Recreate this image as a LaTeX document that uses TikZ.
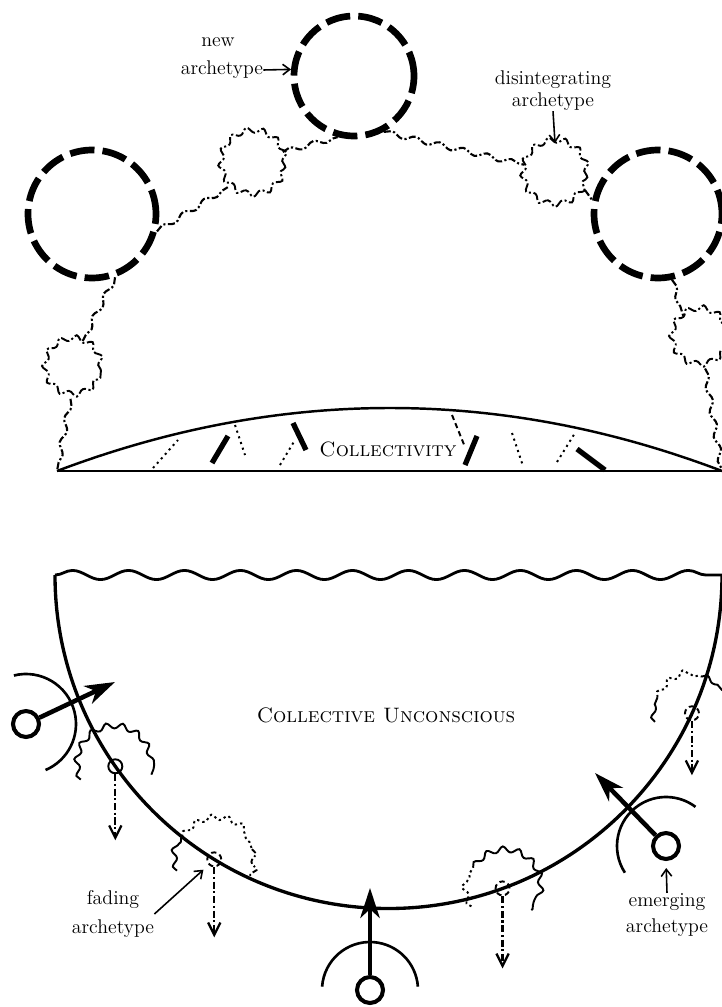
\documentclass[tikz,border=0pt]{standalone}
\usepackage{fontspec}
\usetikzlibrary{arrows.meta, decorations.pathmorphing, calc, positioning}
\tikzset{
  % upper figure: archetype rings, their fuzzy remnants and the links between
  archring/.style = {circle, draw, inner sep=0pt, line width=3.8pt,
                     dash pattern=on 14pt off 4.6pt},
  fuzz/.style     = {circle, draw, inner sep=0pt, line width=1.1pt, decorate,
                     decoration={snake, segment length=9pt, amplitude=1.6pt},
                     dash pattern=on 5pt off 1.5pt on 1.2pt off 1.5pt},
  linkline/.style = {line width=1.2pt, decorate,
                     decoration={snake, segment length=14pt, amplitude=1.5pt},
                     dash pattern=on 4pt off 1.4pt on 1.2pt off 1.4pt},
  tickdot/.style  = {line width=1.1pt, dash pattern=on 1.2pt off 2.2pt},
  tickbar/.style  = {line width=3pt},
  % lower figure: seeds rising through the rim, fading ones sinking back
  seed/.style     = {circle, draw, inner sep=0pt, minimum size=0.52cm, line width=2.3pt},
  rise/.style     = {line width=2.6pt, -{Stealth[length=17pt, width=11pt, inset=5pt]}},
  hood/.style     = {line width=1.5pt},
  fade/.style     = {circle, draw, inner sep=0pt, minimum size=0.28cm, line width=1.1pt},
  sink/.style     = {line width=1.3pt, dash pattern=on 4pt off 1.5pt on 1.2pt off 1.5pt,
                     -{Straight Barb[length=7pt, width=7pt]}},
  wisp/.style     = {line width=1.1pt, decorate,
                     decoration={snake, segment length=9pt, amplitude=1.6pt}},
  wispdot/.style  = {wisp, dash pattern=on 1.3pt off 1.8pt},
  pointer/.style  = {line width=0.9pt, -{Straight Barb[length=4pt, width=6pt]}},
  lbl/.style      = {font=\fontsize{11.3}{16}\selectfont, align=center, inner sep=0pt},
  caps/.style     = {inner sep=0pt},
}

\begin{document}
\begin{tikzpicture}[x=0.02cm, y=-0.02cm,
    bowl/.style={line width=1.9pt},
    surface/.style={line width=1.6pt, decorate,
                    decoration={snake, segment length=1.12cm, amplitude=2.6pt}}]
  \useasboundingbox (0,0) rectangle (722,1007);
  % rings
  \node[archring, minimum size=2.4cm]  (ringN) at (354,76) {};
  \node[archring, minimum size=2.56cm] (ringL) at (92,214) {};
  \node[archring, minimum size=2.56cm] (ringR) at (658,214) {};
  % fuzzy remnants
  \node[fuzz, minimum size=1.12cm] (fzL) at (73,370) {};
  \node[fuzz, minimum size=1.28cm] (fzN) at (253,166) {};
  \node[fuzz, minimum size=1.28cm] (fzD) at (555,176) {};
  \node[fuzz, minimum size=1.12cm] (fzR) at (700,340) {};
  % lens
  \coordinate (lensW) at (57,471);
  \coordinate (lensE) at (722,471);
  \draw[line width=1.7pt] (lensW) -- (lensE);
  \draw[line width=1.4pt] (lensW) .. controls (279,387) and (501,387) .. (lensE);
  % links
  \draw[linkline] (ringL.290) -- (fzL.72);
  \draw[linkline] (fzL.265) -- (lensW);
  \draw[linkline] (ringL.345) -- (fzN.220);
  \draw[linkline] (fzN.25) -- (ringN.255);
  \draw[linkline] (ringN.298) -- (fzD.160);
  \draw[linkline] (fzD.335) -- (ringR.168);
  \draw[linkline] (ringR.282) -- (fzR.125);
  \draw[linkline] (fzR.280) -- (lensE);
  % strokes in the lens
  \draw[tickdot] (153,468) -- (178,440);
  \draw[tickbar] (212,463) -- (228,436);
  \draw[tickdot] (235,425) -- (245,455);
  \draw[tickdot] (280,465) -- (295,440);
  \draw[tickbar] (293,423) -- (306,450);
  \draw[tickdot, dash pattern=on 3pt off 2pt] (452,415) -- (465,447);
  \draw[tickbar] (465,465) -- (477,436);
  \draw[tickdot] (512,433) -- (523,466);
  \draw[tickdot] (557,462) -- (575,433);
  \draw[tickbar] (577,449) -- (605,470);
  \node[caps, font=\fontsize{11.8}{13}\selectfont\scshape]
    (collect) at (388,449) {Collectivity};
  % labels, upper
  \node[lbl] (lblnew) at (218,42) {new};
  \node[lbl] (lblnewb) at (222,70) {archetype};
  \draw[pointer] (lblnewb.east) -- (ringN.174);
  \node[lbl, font=\fontsize{11.3}{12.5}\selectfont] (lbldis) at (553,91) {disintegrating\\archetype};
  \draw[pointer] (lbldis.south) -- (fzD.north);

  % bowl
  \coordinate (surfW) at (55,575);
  \coordinate (surfE) at (722,575);
  \coordinate (bowlc) at (388.5,575);
  \draw[surface] (surfW) -- (surfE);
  \draw[bowl] (surfW) arc[start angle=180, end angle=0, radius=333.5];
  \node[caps, font=\fontsize{11.9}{14}\selectfont\scshape]
    (uncon) at (386,715) {Collective Unconscious};
  % emerging archetypes
  \node[seed] (e1) at (26,724) {};
  \node[seed] (e2) at (370,990) {};
  \node[seed] (e3) at (666,846) {};
  \coordinate (t1) at (115,682);
  \coordinate (t2) at (370,888);
  \coordinate (t3) at (595,773);
  \draw[rise] (e1) -- (t1);
  \draw[rise] (e2) -- (t2);
  \draw[rise] (e3) -- (t3);
  \draw[hood] (e1.center) ++(-104:50) arc[start angle=-104, end angle=67, radius=50];
  \draw[hood] (e2.center) ++(184:48) arc[start angle=184, end angle=356, radius=48];
  \draw[hood] (e3.center) ++(147:49) arc[start angle=147, end angle=307, radius=49];
  % fading archetypes
  \node[fade] (f1) at ($(bowlc)+(145:333.5)$) {};
  \node[fade, densely dashed] (f2) at ($(bowlc)+(121.5:333.5)$) {};
  \node[fade, densely dashed] (f3) at ($(bowlc)+(70:333.5)$) {};
  \node[fade, densely dashed] (f4) at ($(bowlc)+(24.5:333.5)$) {};
  \draw[wisp] (f1.center) ++(159:37) arc[start angle=159, end angle=373, radius=37];
  \draw[wisp] (f2.center) ++(163:39) arc[start angle=163, end angle=215, radius=39];
  \draw[wispdot] (f2.center) ++(215:39) arc[start angle=215, end angle=345, radius=39];
  \draw[wisp, dash pattern=on 3pt off 1.5pt on 1pt off 1.5pt] (f2.center) ++(345:39) arc[start angle=345, end angle=388, radius=39];
  \draw[wispdot] (f3.center) ++(150:36) arc[start angle=150, end angle=215, radius=36];
  \draw[wisp] (f3.center) ++(215:36) arc[start angle=215, end angle=397, radius=36];
  \draw[wisp] (f4.center) ++(167:38) arc[start angle=167, end angle=205, radius=38];
  \draw[wispdot] (f4.center) ++(205:38) arc[start angle=205, end angle=285, radius=38];
  \draw[wisp] (f4.center) ++(285:38) arc[start angle=285, end angle=323, radius=38];
  \coordinate (f1d) at ($(f1)+(0,74)$);
  \coordinate (f2d) at ($(f2)+(0,78)$);
  \coordinate (f3d) at ($(f3)+(0,80)$);
  \coordinate (f4d) at ($(f4)+(0,62)$);
  \draw[sink] (f1) -- (f1d);
  \draw[sink] (f2) -- (f2d);
  \draw[sink] (f3) -- (f3d);
  \draw[sink] (f4) -- (f4d);
  % labels, lower
  \node[lbl] (lblfad) at (113,914) {fading\\archetype};
  \draw[pointer, shorten >=4pt] (lblfad.east) -- (f2.225);
  \node[lbl, font=\fontsize{11.3}{15}\selectfont] (lblemg) at (667,915) {emerging\\archetype};
  \draw[pointer, shorten >=4pt] (lblemg.north) -- (e3.south);
\end{tikzpicture}
\end{document}
